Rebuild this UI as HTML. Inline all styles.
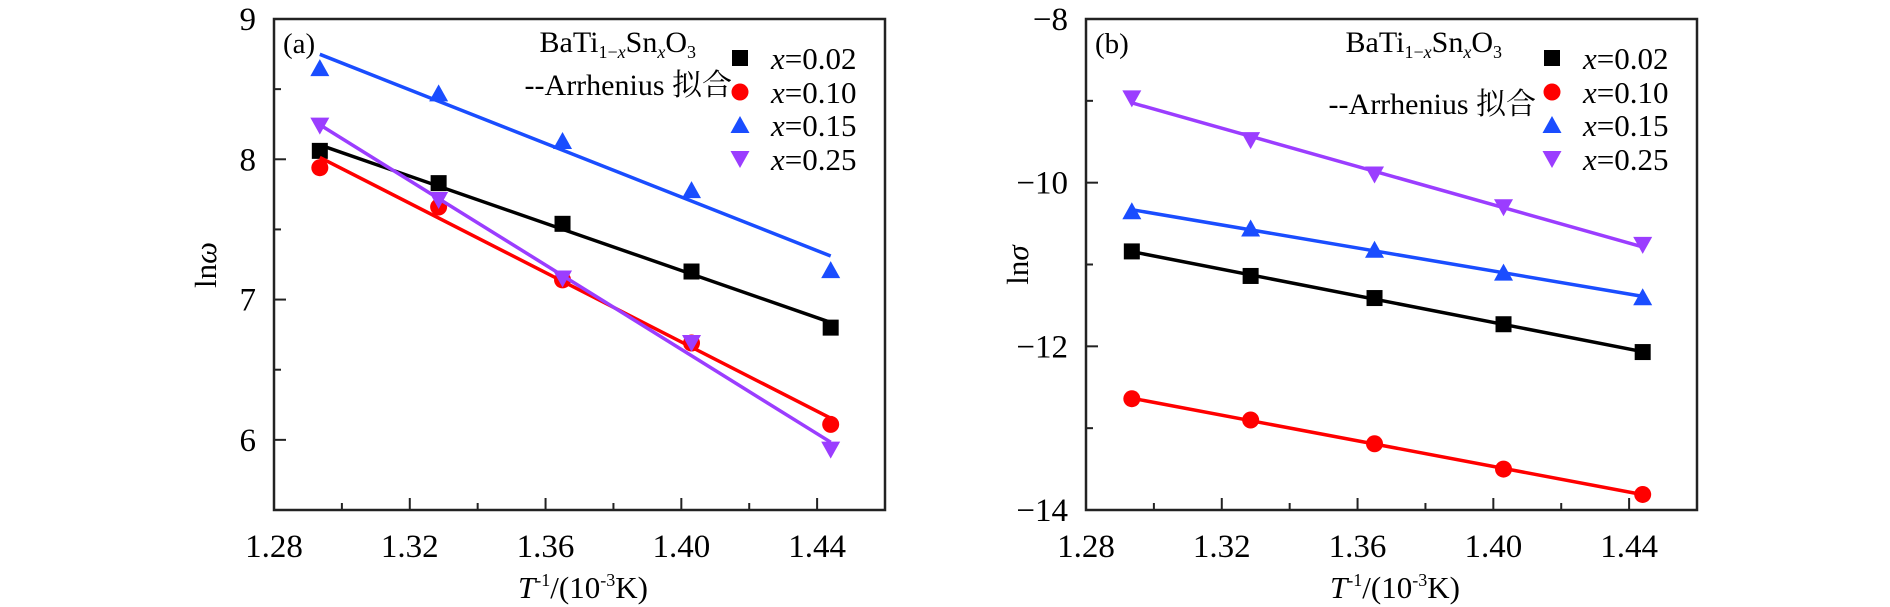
<!DOCTYPE html>
<html><head><meta charset="utf-8"><style>
html,body{margin:0;padding:0;background:#fff;}
svg{display:block;}
svg text{font-family:"Liberation Serif","Noto Serif CJK SC",serif;}
</style></head><body>
<svg id="fig" width="1890" height="607" viewBox="0 0 1890 607" xmlns="http://www.w3.org/2000/svg" font-family="Liberation Serif, Noto Serif CJK SC, serif"></svg>
<script>
const xVals = [1.2935, 1.3285, 1.365, 1.403, 1.444];
const seriesNames = ["x=0.02", "x=0.10", "x=0.15", "x=0.25"];
const lnOmega002 = [8.06, 7.83, 7.54, 7.20, 6.80];
const lnOmega010 = [7.94, 7.66, 7.14, 6.69, 6.11];
const lnOmega015 = [8.65, 8.47, 8.13, 7.78, 7.21];
const lnOmega025 = [8.24, 7.71, 7.15, 6.69, 5.93];
const lnSigma002 = [-10.84, -11.14, -11.41, -11.73, -12.07];
const lnSigma010 = [-12.64, -12.90, -13.19, -13.50, -13.81];
const lnSigma015 = [-10.35, -10.56, -10.82, -11.10, -11.40];
const lnSigma025 = [-8.97, -9.48, -9.90, -10.30, -10.76];
const xTickLabels = ["1.28", "1.32", "1.36", "1.40", "1.44"];
const yTicksA = ["6", "7", "8", "9"];
const yTicksB = ["−14", "−12", "−10", "−8"];

const NS = "http://www.w3.org/2000/svg";
const svg = document.getElementById("fig");
const colors = ["#000000", "#ff0000", "#1a4dff", "#9b3dff"];
const shapes = ["square", "circle", "up", "down"];
const FONT = '"Liberation Serif", "Noto Serif CJK SC", serif';

function mk(tag, attrs, parent) {
  const e = document.createElementNS(NS, tag);
  for (const k in attrs) e.setAttribute(k, attrs[k]);
  if (tag === "text") e.style.fontFamily = FONT;
  (parent || svg).appendChild(e);
  return e;
}

function marker(g, shape, cx, cy, color) {
  let e;
  if (shape === "square") e = mk("rect", {x: cx-8, y: cy-8, width: 16, height: 16, fill: color}, g);
  else if (shape === "circle") e = mk("circle", {cx: cx, cy: cy, r: 8.5, fill: color}, g);
  else if (shape === "up") e = mk("polygon", {points: `${cx},${cy-9} ${cx+9.5},${cy+8} ${cx-9.5},${cy+8}`, fill: color}, g);
  else e = mk("polygon", {points: `${cx},${cy+9} ${cx+9.5},${cy-8} ${cx-9.5},${cy-8}`, fill: color}, g);
  return e;
}

function fit(xs, ys) {
  const n = xs.length;
  let sx=0, sy=0, sxx=0, sxy=0;
  for (let i=0;i<n;i++){sx+=xs[i];sy+=ys[i];sxx+=xs[i]*xs[i];sxy+=xs[i]*ys[i];}
  const b = (n*sxy - sx*sy)/(n*sxx - sx*sx);
  const a = (sy - b*sx)/n;
  return [a, b];
}

function panel(opt) {
  const L = opt.left, R = opt.left + 611, T = 19, B = 510;
  const g = mk("g", {});
  
  
  const xs = v => L + (v - 1.28) / 0.18 * (R - L);
  const ys = v => B - (v - opt.ymin) / (opt.ymax - opt.ymin) * (B - T);

  opt.series.forEach((vals, si) => {
    const sg = mk("g", {}, g);
    
    
    const [a, b] = fit(xVals, vals);
    const x0 = xVals[0], x1 = xVals[xVals.length-1];
    const ln = mk("line", {x1: xs(x0), y1: ys(a+b*x0), x2: xs(x1), y2: ys(a+b*x1), stroke: colors[si], "stroke-width": 3.5}, sg);
    
    
    vals.forEach((v, i) => {
      const m = marker(sg, shapes[si], xs(xVals[i]), ys(v), colors[si]);
      
      
    });
  });

  const fr = mk("rect", {x: L, y: T, width: R-L, height: B-T, fill: "none", stroke: "#222", "stroke-width": 2.5}, g);
  
  

  for (let i = 1; i <= 9; i++) {
    const v = 1.28 + i * 0.02;
    const len = i % 2 === 0 ? 12 : 7;
    mk("line", {x1: xs(v), y1: B, x2: xs(v), y2: B - len, stroke: "#222", "stroke-width": 2}, g);
  }
  xTickLabels.forEach(t => {
    const e = mk("text", {x: xs(parseFloat(t)), y: 557, "font-size": 33, "text-anchor": "middle"}, g);
    e.textContent = t;
    
    
  });
  const step = opt.ystep;
  for (let v = opt.ymin + step/2; v < opt.ymax - 1e-9; v += step/2) {
    const major = Math.abs(Math.round(v/step)*step - v) < 1e-9;
    mk("line", {x1: L, y1: ys(v), x2: L + (major ? 12 : 7), y2: ys(v), stroke: "#222", "stroke-width": 2}, g);
  }
  opt.yTicks.forEach(t => {
    const v = parseFloat(t.replace('−', '-'));
    const e = mk("text", {x: L - 18, y: ys(v) + 11, "font-size": 33, "text-anchor": "end"}, g);
    e.textContent = t;
    
    
  });

  const yt = mk("text", {x: 0, y: 0, "font-size": 31, "text-anchor": "middle", transform: `translate(${L-58},265) rotate(-90)`}, g);
  yt.innerHTML = 'ln<tspan font-style="italic">' + opt.ysym + '</tspan>';
  
  
  const xt = mk("text", {x: L + 309, y: 598, "font-size": 31, "text-anchor": "middle"}, g);
  xt.innerHTML = '<tspan font-style="italic">T</tspan><tspan font-size="18" dy="-12">-1</tspan><tspan dy="12">/(10</tspan><tspan font-size="18" dy="-12">-3</tspan><tspan dy="12">K)</tspan>';
  
  

  const pl = mk("text", {x: L + 9, y: 53, "font-size": 29}, g);
  pl.textContent = opt.label;
  
  

  const fm = mk("text", {x: L + opt.formulaX, y: 52, "font-size": 30, "text-anchor": "end"}, g);
  fm.innerHTML = 'BaTi<tspan font-size="18" dy="6">1−<tspan font-style="italic">x</tspan></tspan><tspan dy="-6">Sn</tspan><tspan font-size="18" dy="6" font-style="italic">x</tspan><tspan dy="-6">O</tspan><tspan font-size="18" dy="6">3</tspan>';
  
  
  const ar = mk("text", {x: L + opt.arrX, y: opt.arrY, "font-size": 30, "text-anchor": "end"}, g);
  ar.textContent = "--Arrhenius 拟合";
  
  

  const lg = mk("g", {}, g);
  
  
  const rows = [58, 92, 125, 159];
  seriesNames.forEach((n, i) => {
    const m = marker(lg, shapes[i], L + 466, rows[i], colors[i]);
    
    
    const t = mk("text", {x: L + 497, y: rows[i] + 11, "font-size": 31}, lg);
    t.innerHTML = '<tspan font-style="italic">x</tspan>' + n.slice(1);
    
    
  });
}

panel({name: "panel-a", left: 274, ymin: 5.5, ymax: 9, ystep: 1, yTicks: yTicksA, ysym: "ω", label: "(a)",
  series: [lnOmega002, lnOmega010, lnOmega015, lnOmega025], formulaX: 422, arrX: 458, arrY: 95});
panel({name: "panel-b", left: 1086, ymin: -14, ymax: -8, ystep: 2, yTicks: yTicksB, ysym: "σ", label: "(b)",
  series: [lnSigma002, lnSigma010, lnSigma015, lnSigma025], formulaX: 416, arrX: 450, arrY: 114});
</script>
</body></html>
